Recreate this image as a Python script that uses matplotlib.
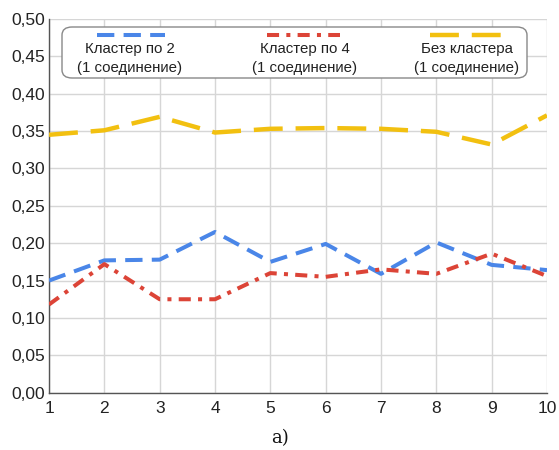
import matplotlib
matplotlib.use("Agg")
import matplotlib.pyplot as plt
from matplotlib.patches import FancyBboxPatch
from matplotlib.lines import Line2D

x = [1, 2, 3, 4, 5, 6, 7, 8, 9, 10]
cluster2 = [0.150, 0.177, 0.178, 0.215, 0.175, 0.199, 0.159, 0.201, 0.171, 0.164]
cluster4 = [0.118, 0.172, 0.125, 0.125, 0.160, 0.155, 0.165, 0.159, 0.186, 0.156]
no_cluster = [0.345, 0.351, 0.369, 0.348, 0.353, 0.354, 0.353, 0.349, 0.332, 0.371]
labels = ["Кластер по 2\n(1 соединение)", "Кластер по 4\n(1 соединение)", "Без кластера\n(1 соединение)"]
yticks = [0.00, 0.05, 0.10, 0.15, 0.20, 0.25, 0.30, 0.35, 0.40, 0.45, 0.50]

plt.rcParams['font.family'] = ['Liberation Sans', 'DejaVu Sans']

fig = plt.figure(figsize=(5.59, 4.5), dpi=100)
ax = fig.add_axes([0.0877, 0.1273, 0.8908, 0.8307])

c_blue = '#4a86e8'
c_red = '#dc4437'
c_yel = '#f2c010'

styles = [
    dict(color=c_blue, lw=2.9, dashes=(4.3, 2.3)),
    dict(color=c_red, lw=2.9, dashes=(3.0, 1.8, 1.0, 1.8)),
    dict(color=c_yel, lw=3.2, dashes=(6.5, 2.9)),
]
for ys, st in zip([cluster2, cluster4, no_cluster], styles):
    ax.plot(x, ys, color=st['color'], lw=st['lw'], dashes=st['dashes'],
            solid_capstyle='butt', dash_capstyle='butt', zorder=3)

ax.set_xlim(1, 10)
ax.set_ylim(0, 0.5)
ax.set_xticks(x)
ax.set_yticks(yticks)
ax.set_yticklabels([f"{v:.2f}".replace('.', ',') for v in yticks])
ax.grid(True, color='#d6d6d6', lw=1.0)
ax.set_axisbelow(True)
for s in ['top', 'right']:
    ax.spines[s].set_visible(False)
ax.spines['left'].set_color('#555555')
ax.spines['bottom'].set_color('#555555')
ax.spines['left'].set_linewidth(1.0)
ax.spines['bottom'].set_linewidth(1.0)
ax.tick_params(axis='both', length=0, labelsize=12.5, labelcolor='#222222')
ax.tick_params(axis='x', pad=6)
ax.tick_params(axis='y', pad=3)

W, H = 559, 450
def fx(px): return px / W
def fy(py): return 1 - py / H

box = FancyBboxPatch((fx(62), fy(78)), fx(527) - fx(62), fy(27) - fy(78),
                     boxstyle="round,pad=0,rounding_size=0.018",
                     transform=fig.transFigure, facecolor='white',
                     edgecolor='#888888', lw=1.0, zorder=5)
fig.patches.append(box)

centers = [130, 305, 467]
line_spans = [(97, 165), (267, 340), (430, 506)]
for (x0, x1), cx, lab, st in zip(line_spans, centers, labels, styles):
    l = Line2D([fx(x0), fx(x1)], [fy(35), fy(35)], transform=fig.transFigure,
               color=st['color'], lw=st['lw'], dashes=st['dashes'],
               dash_capstyle='butt', solid_capstyle='butt', zorder=6)
    fig.lines.append(l)
    fig.text(fx(cx), fy(58.5), lab, ha='center', va='center', fontsize=10.8,
             color='#222222', linespacing=1.45, zorder=7)

fig.text(fx(280), fy(438), "а)", ha='center', va='center', fontsize=13,
         family=['DejaVu Serif', 'Liberation Serif'], color='#111111')

fig.savefig('out.png', dpi=100)
